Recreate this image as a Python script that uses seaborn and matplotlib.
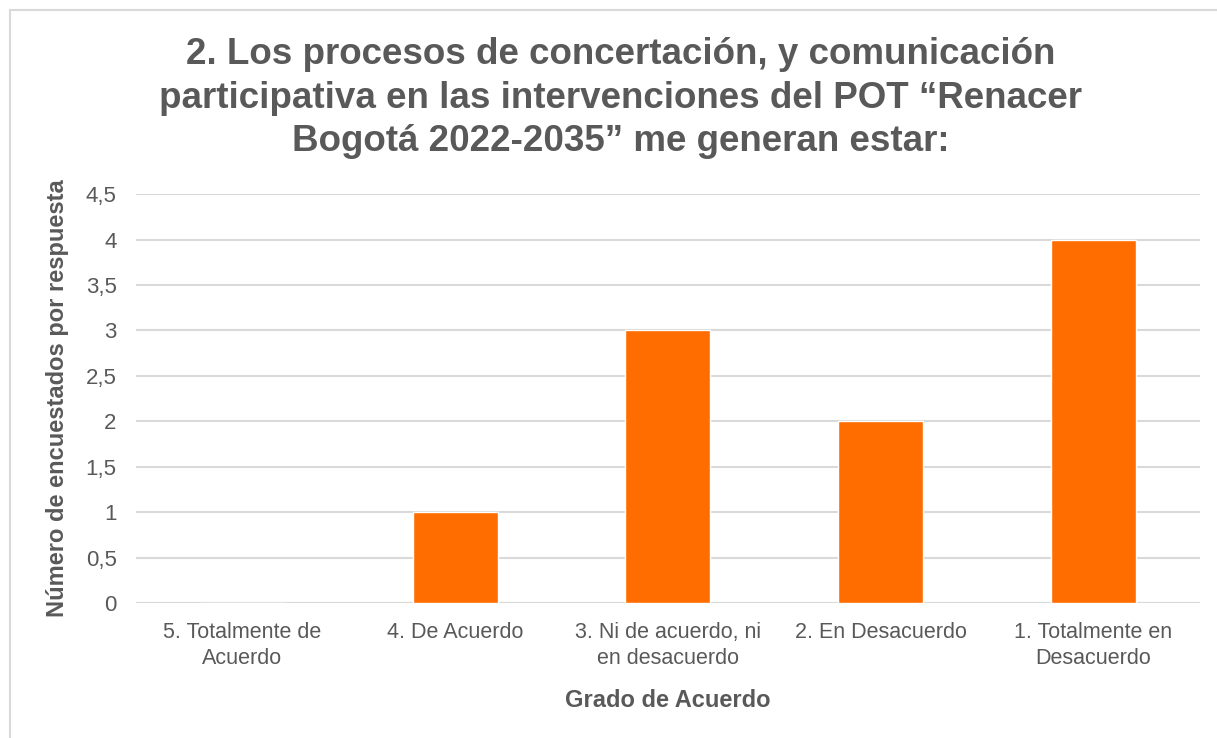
import matplotlib
matplotlib.use("Agg")
import matplotlib.pyplot as plt
import seaborn as sns
import pandas as pd
from matplotlib.patches import Rectangle

# --- data
categorias = ["5. Totalmente de\nAcuerdo", "4. De Acuerdo", "3. Ni de acuerdo, ni\nen desacuerdo",
              "2. En Desacuerdo", "1. Totalmente en\nDesacuerdo"]
respuestas = [0, 1, 3, 2, 4]
y_ticks = [0, 0.5, 1, 1.5, 2, 2.5, 3, 3.5, 4, 4.5]
y_tick_labels = ["0", "0,5", "1", "1,5", "2", "2,5", "3", "3,5", "4", "4,5"]

titulo = "2. Los procesos de concertación, y comunicación\nparticipativa en las intervenciones del POT \u201cRenacer\nBogotá 2022-2035\u201d me generan estar:"

df = pd.DataFrame({"Grado": categorias, "Encuestados": respuestas})

sns.set_style("white")
plt.rcParams['font.family'] = ['Liberation Sans', 'DejaVu Sans']
gris = "#595959"

fig = plt.figure(figsize=(12.17, 7.38), dpi=100)
ax = fig.add_axes([0.1118, 0.183, 0.874, 0.554])

sns.barplot(data=df, x="Grado", y="Encuestados", color="#FF6D00", width=0.4,
            saturation=1, ax=ax, zorder=3)

ax.set_ylim(0, 4.5)
ax.set_yticks(y_ticks)
ax.set_yticklabels(y_tick_labels)
ax.yaxis.grid(True, color="#d9d9d9", linewidth=1.5, zorder=0)
ax.set_axisbelow(True)
for s in ["top", "right", "left", "bottom"]:
    ax.spines[s].set_visible(False)
ax.axhline(0, color="#d9d9d9", linewidth=1.5, zorder=1)
ax.tick_params(axis="y", length=0, labelsize=16, labelcolor=gris, pad=14)
ax.tick_params(axis="x", length=0, labelsize=15.5, labelcolor=gris, pad=14)
for lbl in ax.get_xticklabels():
    lbl.set_linespacing(1.3)

ax.set_xlabel("Grado de Acuerdo", fontsize=17, fontweight="bold", color=gris, labelpad=14)
ax.set_ylabel("Número de encuestados por respuesta", fontsize=17, fontweight="bold",
              color=gris, labelpad=12)

fig.text(0.51, 0.867, titulo, ha="center", va="center", fontsize=26.5, fontweight="bold",
         color=gris, linespacing=1.32)

# marco exterior del grafico
fig.patches.append(Rectangle((10 / 1217, -0.1), 1.2, 1.1 - 10 / 738, transform=fig.transFigure,
                             fill=False, edgecolor="#d9d9d9", linewidth=1.5))

fig.savefig("out.png", dpi=100, facecolor="white")
